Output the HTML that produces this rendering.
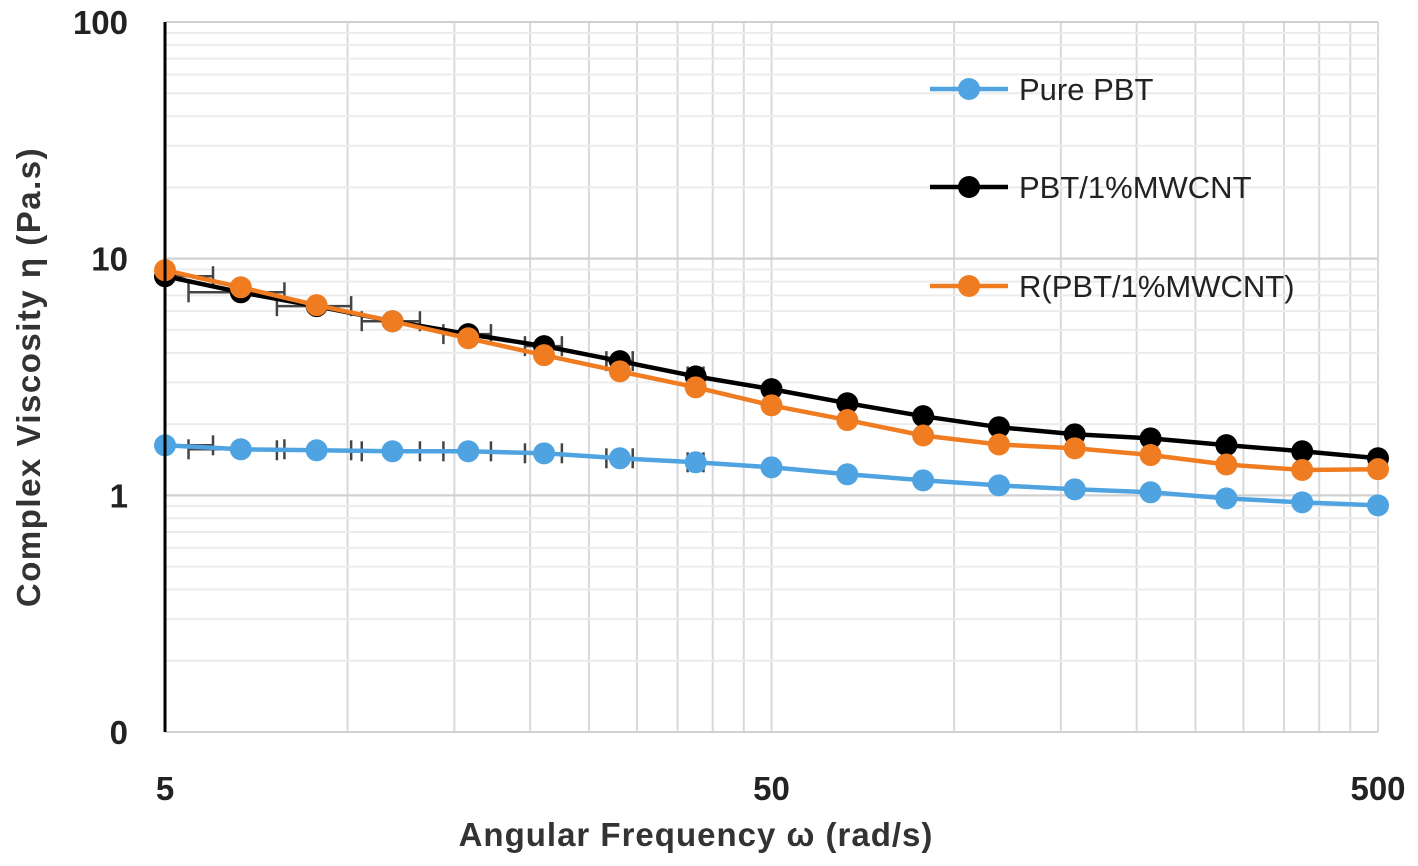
<!DOCTYPE html>
<html><head><meta charset="utf-8"><style>
html,body{margin:0;padding:0;background:#fff;width:1418px;height:866px;overflow:hidden}
svg text{font-family:"Liberation Sans",sans-serif;font-weight:bold}
</style></head><body>
<svg id="chart" width="1418" height="866" xmlns="http://www.w3.org/2000/svg">
<defs><clipPath id="plotclip"><rect x="165" y="22" width="1213" height="710"/></clipPath></defs>
<g id="grid"></g>
<g id="errs" clip-path="url(#plotclip)"></g>
<g id="series"></g>
<g id="axes"></g>
<g id="legend"></g>
</svg>
<script>
const pureValues = [1.627,1.565,1.55,1.535,1.535,1.505,1.434,1.379,1.313,1.227,1.157,1.102,1.06,1.03,0.971,0.934,0.907];
const cntValues = [8.43,7.21,6.30,5.44,4.80,4.27,3.69,3.18,2.81,2.45,2.16,1.94,1.81,1.74,1.63,1.535,1.434];
const recycledValues = [8.94,7.57,6.36,5.44,4.61,3.91,3.34,2.86,2.40,2.08,1.79,1.64,1.58,1.48,1.35,1.28,1.29];
const xErrFrac = [0.2,0.18,0.14,0.11,0.09,0.07,0.05,0.03,0,0,0,0,0,0,0,0,0];
const xTickLabels = ["5","50","500"];
const xTickValues = [5,50,500];
const yTickLabels = ["0","1","10","100"];
const yTickValues = [0.1,1,10,100];
const xGridValues = [10,15,20,25,30,35,40,45,50,100,150,200,250,300,350,400,450,500];
const seriesNames = ["Pure PBT","PBT/1%MWCNT","R(PBT/1%MWCNT)"];
const seriesColors = ["#4ea3e0","#000000","#f07c22"];

const X0=165,X1=1378,Y0=732,Y1=22;
const xs=v=>X0+(Math.log10(v)-Math.log10(5))/2*(X1-X0);
const ys=v=>Y0-(Math.log10(v)+1)/3*(Y0-Y1);
const freqOf=i=>5*Math.pow(10,i/8);
const NS="http://www.w3.org/2000/svg";
function mk(tag,attrs,parent){const e=document.createElementNS(NS,tag);for(const k in attrs)e.setAttribute(k,attrs[k]);parent.appendChild(e);return e;}

const grid=document.getElementById('grid');
xGridValues.forEach(v=>{const l=mk('line',{x1:xs(v),x2:xs(v),y1:Y1,y2:Y0,stroke:'#d9d9d9','stroke-width':2},grid);

});
[0.1,1,10].forEach(dec=>{for(let m=1;m<=10;m++){const v=m*dec;const l=mk('line',{x1:X0,x2:X1,y1:ys(v),y2:ys(v),stroke:m===10||m===1?'#d0d0d0':'#ececec','stroke-width':2},grid);

}});

const errs=document.getElementById('errs');
[pureValues,cntValues].forEach(vals=>{vals.forEach((v,i)=>{const e=xErrFrac[i];if(!e)return;const f=freqOf(i);const y=ys(v);
const a=xs(f*(1-e)),b=xs(f*(1+e));
const g=mk('g',{},errs);


mk('line',{x1:a,x2:b,y1:y,y2:y,stroke:'#444','stroke-width':2.5},g);
mk('line',{x1:a,x2:a,y1:y-10,y2:y+10,stroke:'#444','stroke-width':2.5},g);
mk('line',{x1:b,x2:b,y1:y-10,y2:y+10,stroke:'#444','stroke-width':2.5},g);});});

const ser=document.getElementById('series');
[pureValues,cntValues,recycledValues].forEach((vals,s)=>{const g=mk('g',{},ser);


const pts=vals.map((v,i)=>xs(freqOf(i)).toFixed(1)+','+ys(v).toFixed(1)).join(' ');
mk('polyline',{points:pts,fill:'none',stroke:seriesColors[s],'stroke-width':4.5,'stroke-linejoin':'round'},g);
vals.forEach((v,i)=>{const c=mk('circle',{cx:xs(freqOf(i)),cy:ys(v),r:11,fill:seriesColors[s]},g);

});});

const ax=document.getElementById('axes');
const yl=mk('line',{x1:X0,x2:X0,y1:Y1,y2:Y0,stroke:'#000','stroke-width':3},ax);


xTickValues.forEach((v,i)=>{const t=mk('text',{x:xs(v),y:800,'text-anchor':'middle','font-size':33,fill:'#222'},ax);t.textContent=xTickLabels[i];

});
yTickValues.forEach((v,i)=>{const t=mk('text',{x:128,y:ys(v)+12,'text-anchor':'end','font-size':33,fill:'#222'},ax);t.textContent=yTickLabels[i];

});
const xt=mk('text',{x:696,y:846,'text-anchor':'middle','font-size':33,fill:'#333','letter-spacing':1},ax);xt.textContent='Angular Frequency ω (rad/s)';


const yt=mk('text',{x:0,y:0,'text-anchor':'middle','font-size':33,fill:'#333','letter-spacing':1.5,transform:'translate(40,377) rotate(-90)'},ax);yt.textContent='Complex Viscosity η (Pa.s)';



const lg=document.getElementById('legend');
[89,187,286].forEach((y,s)=>{const g=mk('g',{},lg);


mk('line',{x1:930,x2:1008,y1:y,y2:y,stroke:seriesColors[s],'stroke-width':4.5},g);
mk('circle',{cx:969,cy:y,r:11,fill:seriesColors[s]},g);
const t=mk('text',{x:1019,y:y+11,'font-size':31,style:'font-weight:normal',fill:'#222'},g);t.textContent=seriesNames[s];});
</script>
</body></html>
